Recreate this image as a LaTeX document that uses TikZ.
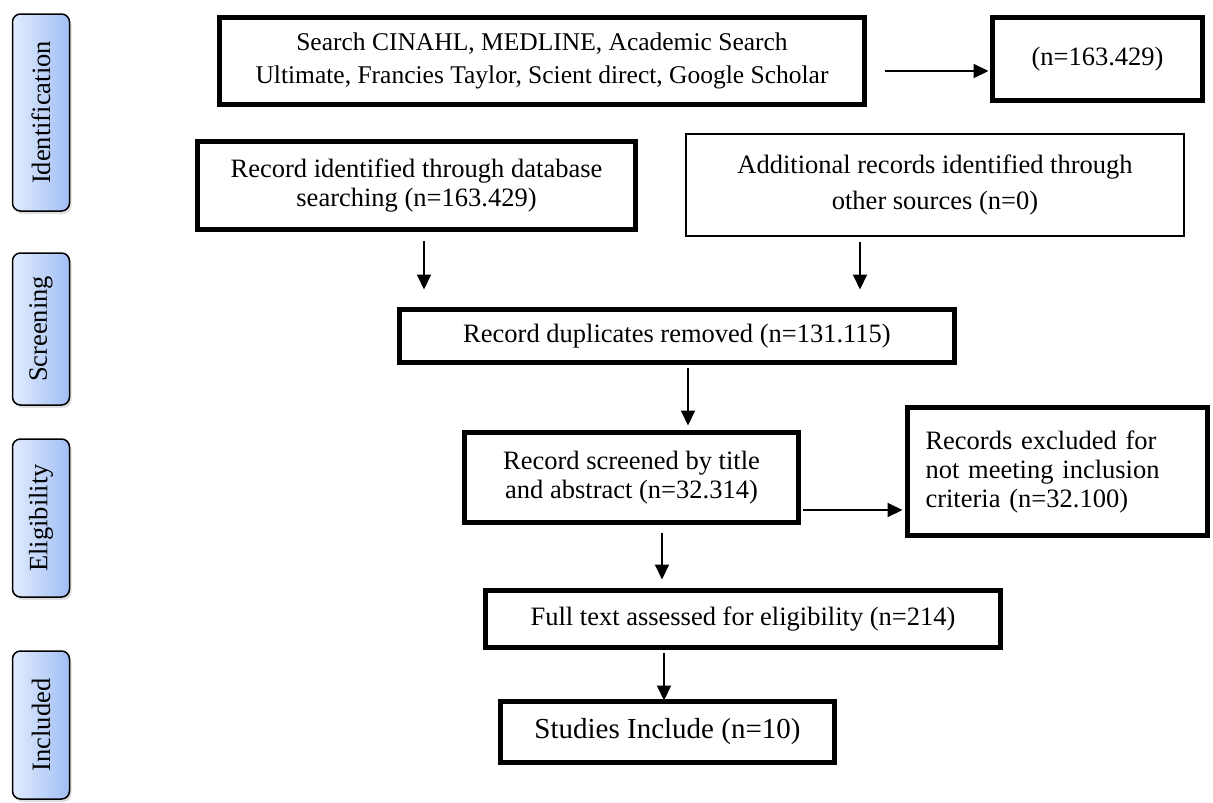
\documentclass[tikz,border=0pt]{standalone}
\usepackage{fontspec}
\setmainfont{Liberation Serif}
\usetikzlibrary{arrows.meta,shadows}
\definecolor{phL}{RGB}{226,236,253}
\definecolor{phR}{RGB}{160,190,245}
\begin{document}
\begin{tikzpicture}[x=1pt,y=-1pt,
  every node/.style={font=\fontsize{26.5}{29}\selectfont, inner sep=0pt, outer sep=0pt},
  bbox/.style={draw, line width=5pt, align=center},
  tbox/.style={draw, line width=2pt, align=center},
  phase/.style={draw, line width=1.5pt, rounded corners=8pt, left color=phL, right color=phR,
    minimum width=57pt, drop shadow={shadow xshift=2pt, shadow yshift=-3pt, opacity=0.25}},
  arr/.style={line width=2pt, -{Triangle[length=15pt,width=14pt]}}]
\fill[white] (0,0) rectangle (1213,803);
\useasboundingbox (0,0) rectangle (1213,803);

% phase labels
\node[phase, minimum height=197pt] (ident) at (41,112.5) {\rotatebox{90}{Identification}};
\node[phase, minimum height=152pt] (screen) at (41,329) {\rotatebox{90}{Screening}};
\node[phase, minimum height=158pt] (elig) at (41,518) {\rotatebox{90}{Eligibility}};
\node[phase, minimum height=148pt] (incl) at (41,725) {\rotatebox{90}{Included}};

% boxes
\node[bbox, minimum width=645pt, minimum height=87pt, font=\fontsize{25.5}{33}\selectfont] (search) at (542,61)
  {Search CINAHL, MEDLINE, Academic Search\\Ultimate, Francies Taylor, Scient direct, Google Scholar};
\node[bbox, minimum width=210pt, minimum height=83pt] (nbox) at (1097.5,59) {(n=163.429)};
\node[bbox, minimum width=438pt, minimum height=88pt] (recid) at (416.5,185.5)
  {Record identified through database\\searching (n=163.429)};
\node[tbox, minimum width=498pt, minimum height=102pt, font=\fontsize{26.5}{36}\selectfont] (add) at (935,185)
  {Additional records identified through\\other sources (n=0)};
\node[bbox, minimum width=555pt, minimum height=53pt] (dup) at (677,336) {Record duplicates removed (n=131.115)};
\node[bbox, minimum width=300pt, minimum height=128pt, text width=264pt, align=left, inner xsep=18pt] (exc) at (1057.5,471.5)
  {Records excluded for\\not meeting inclusion\\criteria (n=32.100)};
\node[bbox, minimum width=334pt, minimum height=90pt] (scr) at (631.5,477.5)
  {Record screened by title\\and abstract (n=32.314)};
\node[bbox, minimum width=515pt, minimum height=57pt] (full) at (743,619) {Full text assessed for eligibility (n=214)};
\node[bbox, minimum width=334pt, minimum height=61pt, font=\fontsize{29}{33}\selectfont] (stud) at (667.5,732) {Studies Include (n=10)};

% arrows
\draw[arr] ([xshift=20pt,yshift=-10pt]search.east) -- ([xshift=-4pt,yshift=-10pt]search.east -| nbox.west);
\draw[arr] ([xshift=7.5pt,yshift=-11pt]recid.south) -- ([xshift=7.5pt,yshift=20pt]recid.south |- dup.north);
\draw[arr] ([xshift=-75pt,yshift=-6pt]add.south) -- ([xshift=-75pt,yshift=20pt]add.south |- dup.north);
\draw[arr] ([xshift=11pt,yshift=-5pt]dup.south) -- ([xshift=11pt,yshift=7pt]dup.south |- scr.north);
\draw[arr] ([xshift=4pt,yshift=-32.5pt]scr.east) -- ([xshift=-5pt,yshift=-32.5pt]scr.east -| exc.west);
\draw[arr] ([xshift=30.5pt,yshift=-10pt]scr.south) -- ([xshift=30.5pt,yshift=11pt]scr.south |- full.north);
\draw[arr] ([xshift=-3.5pt,yshift=-5pt]stud.north |- full.south) -- ([xshift=-3.5pt,yshift=1pt]stud.north);
\end{tikzpicture}
\end{document}
